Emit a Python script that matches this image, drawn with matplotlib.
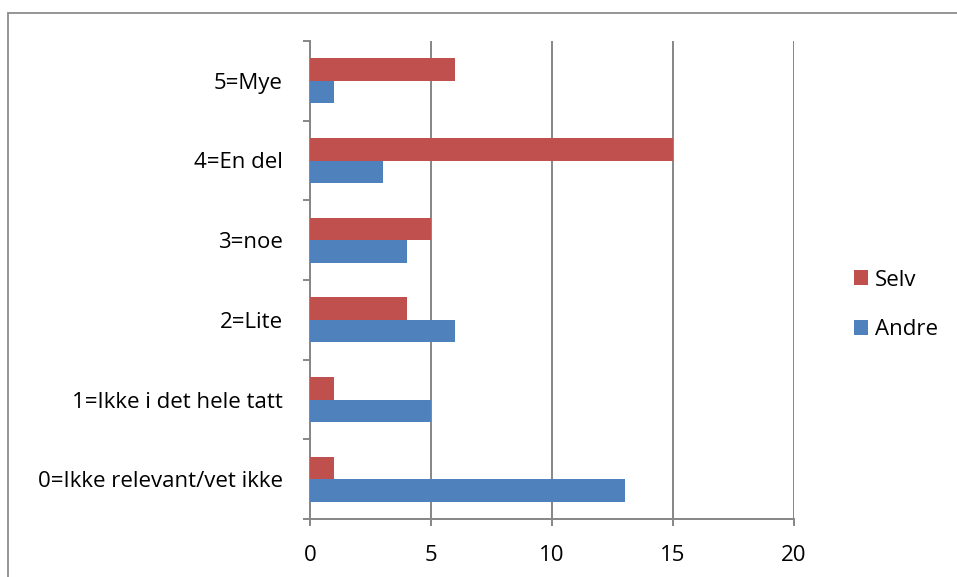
import matplotlib
matplotlib.use("Agg")
import matplotlib.pyplot as plt
from matplotlib.patches import Rectangle, Patch
from matplotlib.ticker import FixedLocator, NullFormatter
import numpy as np

plt.rcParams['font.family'] = ['Open Sans', 'DejaVu Sans']

categories = ["0=Ikke relevant/vet ikke", "1=Ikke i det hele tatt", "2=Lite",
              "3=noe", "4=En del", "5=Mye"]
selv = [1, 1, 4, 5, 15, 6]
andre = [13, 5, 6, 4, 3, 1]
x_ticks = [0, 5, 10, 15, 20]

red = "#C0504D"
blue = "#4F81BD"
grid_gray = "#868686"
fs = 16

W, H = 957, 577
fig = plt.figure(figsize=(W / 100, H / 100), dpi=100)

# chart-area frame (runs off the right and bottom edges)
fig.patches.append(Rectangle((8 / W, -0.05), 1.2, 1 - 13 / H + 0.05,
                             transform=fig.transFigure, fill=False,
                             edgecolor="#8c8c8c", linewidth=1.3, zorder=0))

left, right, top, bottom = 310, 794, 41, 519
ax = fig.add_axes([left / W, 1 - bottom / H, (right - left) / W, (bottom - top) / H])

y = np.arange(len(categories))
h = 0.283
ax.barh(y + h / 2, selv, height=h, color=red, label="Selv", zorder=3)
ax.barh(y - h / 2, andre, height=h, color=blue, label="Andre", zorder=3)

ax.set_xlim(0, 20)
ax.set_ylim(-0.5, len(categories) - 0.5)
ax.set_xticks(x_ticks)
ax.set_xticklabels([str(t) for t in x_ticks])
ax.set_yticks(y)
ax.set_yticklabels(categories)
ax.yaxis.set_minor_locator(FixedLocator(np.arange(-0.5, len(categories), 1.0)))
ax.yaxis.set_minor_formatter(NullFormatter())

ax.xaxis.grid(True, color=grid_gray, linewidth=1.4, zorder=1)
ax.set_axisbelow(True)

for s in ["top", "right"]:
    ax.spines[s].set_visible(False)
for s in ["left", "bottom"]:
    ax.spines[s].set_color(grid_gray)
    ax.spines[s].set_linewidth(1.4)

ax.tick_params(axis="y", which="major", length=0, pad=19.5, labelsize=fs)
ax.tick_params(axis="y", which="minor", length=5, width=1.4, color=grid_gray)
ax.tick_params(axis="x", which="major", length=5, width=1.4, color=grid_gray,
               pad=13.5, labelsize=fs)

handles = [Patch(facecolor=red, label="Selv"), Patch(facecolor=blue, label="Andre")]
fig.legend(handles=handles, loc="center left", bbox_to_anchor=(834 / W, 1 - 305 / H),
           frameon=False, fontsize=fs, handlelength=0.65, handleheight=0.65,
           handletextpad=0.3, labelspacing=1.3)

fig.savefig("out.png", dpi=100, facecolor="white")
